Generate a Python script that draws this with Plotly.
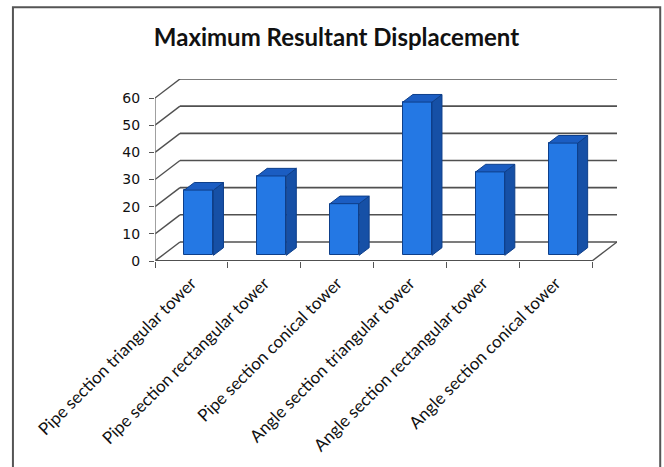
import plotly.graph_objects as go

categories = [
    "Pipe section triangular tower",
    "Pipe section rectangular tower",
    "Pipe section conical tower",
    "Angle section triangular tower",
    "Angle section rectangular tower",
    "Angle section conical tower",
]
values = [24, 29.2, 19, 56.4, 30.7, 41.3]
y_ticks = [0, 10, 20, 30, 40, 50, 60]

W, H = 664, 467
L, R, T, B = 155, 47.2, 78.8, 206
DX = 0.343   # depth offset in category units
DY = 7.0     # depth offset in value units
D1, D2 = 0.30, 0.70
BW = 0.40

n = len(categories)
XMAX = n + DX
YMAX = y_ticks[-1] + DY

FRONT = "#2478E4"
SIDE = "#1650A6"
TOP = "#1B5DC2"
EDGE = "#0E3F8A"
GRID = "#505050"

fig = go.Figure()

shapes = []
# back wall gridlines and left wall diagonals
for v in y_ticks:
    shapes.append(dict(type="line", xref="x", yref="y", layer="below",
                       x0=DX, y0=v + DY, x1=n + DX, y1=v + DY,
                       line=dict(color=GRID, width=1.6)))
    shapes.append(dict(type="line", xref="x", yref="y", layer="below",
                       x0=0, y0=v, x1=DX, y1=v + DY,
                       line=dict(color=GRID, width=1.4)))
# floor front and right edges
shapes.append(dict(type="line", xref="x", yref="y", layer="below",
                   x0=0, y0=0, x1=n, y1=0, line=dict(color=GRID, width=1.8)))
shapes.append(dict(type="line", xref="x", yref="y", layer="below",
                   x0=n, y0=0, x1=n + DX, y1=DY, line=dict(color=GRID, width=1.4)))
# front y-axis line
shapes.append(dict(type="line", xref="x", yref="y", layer="below",
                   x0=0, y0=0, x1=0, y1=y_ticks[-1], line=dict(color="#777777", width=1.4)))

# outer border (pixel-based)
def px(x):
    return (x - L) / (W - L - R)

def py(y):
    return (H - B - y) / (H - T - B)

shapes.append(dict(type="rect", xref="paper", yref="paper", layer="above",
                   x0=px(13), y0=py(475), x1=px(660), y1=py(7),
                   line=dict(color="#555555", width=2), fillcolor="rgba(0,0,0,0)"))

# bar fronts
fig.add_trace(go.Bar(
    x=[i + 0.5 + D1 * DX for i in range(n)],
    y=values,
    base=D1 * DY,
    width=BW,
    marker=dict(color=FRONT, line=dict(color=EDGE, width=1)),
    hoverinfo="skip",
    showlegend=False,
))

# bar sides and tops
for i, v in enumerate(values):
    x0 = i + 0.5 - BW / 2
    x1 = i + 0.5 + BW / 2
    side_x = [x1 + D1 * DX, x1 + D2 * DX, x1 + D2 * DX, x1 + D1 * DX, x1 + D1 * DX]
    side_y = [D1 * DY, D2 * DY, v + D2 * DY, v + D1 * DY, D1 * DY]
    fig.add_trace(go.Scatter(x=side_x, y=side_y, mode="lines", fill="toself",
                             fillcolor=SIDE, line=dict(color=EDGE, width=1),
                             hoverinfo="skip", showlegend=False))
    top_x = [x0 + D1 * DX, x1 + D1 * DX, x1 + D2 * DX, x0 + D2 * DX, x0 + D1 * DX]
    top_y = [v + D1 * DY, v + D1 * DY, v + D2 * DY, v + D2 * DY, v + D1 * DY]
    fig.add_trace(go.Scatter(x=top_x, y=top_y, mode="lines", fill="toself",
                             fillcolor=TOP, line=dict(color=EDGE, width=1),
                             hoverinfo="skip", showlegend=False))

fig.update_layout(
    width=W, height=H,
    margin=dict(l=L, r=R, t=T, b=B, autoexpand=False),
    paper_bgcolor="white", plot_bgcolor="white",
    shapes=shapes,
    title=dict(text="<b>Maximum Resultant Displacement</b>",
               font=dict(family="Lato", size=24, color="#111111"),
               xref="container", yref="container",
               x=336.5 / W, y=1 - 38 / H, xanchor="center", yanchor="middle"),
    xaxis=dict(range=[0, XMAX], showgrid=False, zeroline=False, showline=False,
               tickmode="array", tickvals=[i + 0.5 for i in range(n)], ticktext=categories,
               tickangle=-45, ticks="", ticklabelstandoff=8,
               tickfont=dict(family="Lato", size=17, color="#111111"),
               minor=dict(tickmode="array", tickvals=list(range(n + 1)), ticks="outside",
                          ticklen=6, tickwidth=1.4, tickcolor="#555555", showgrid=False),
               fixedrange=True),
    yaxis=dict(range=[0, YMAX], showgrid=False, zeroline=False, showline=False,
               tickmode="array", tickvals=y_ticks, ticks="outside", ticklen=5,
               tickwidth=1.4, tickcolor="#555555", ticklabelstandoff=6,
               tickfont=dict(family="DejaVu Sans", size=14, color="#111111"),
               fixedrange=True),
    bargap=0,
)

fig.write_html("out.html")
